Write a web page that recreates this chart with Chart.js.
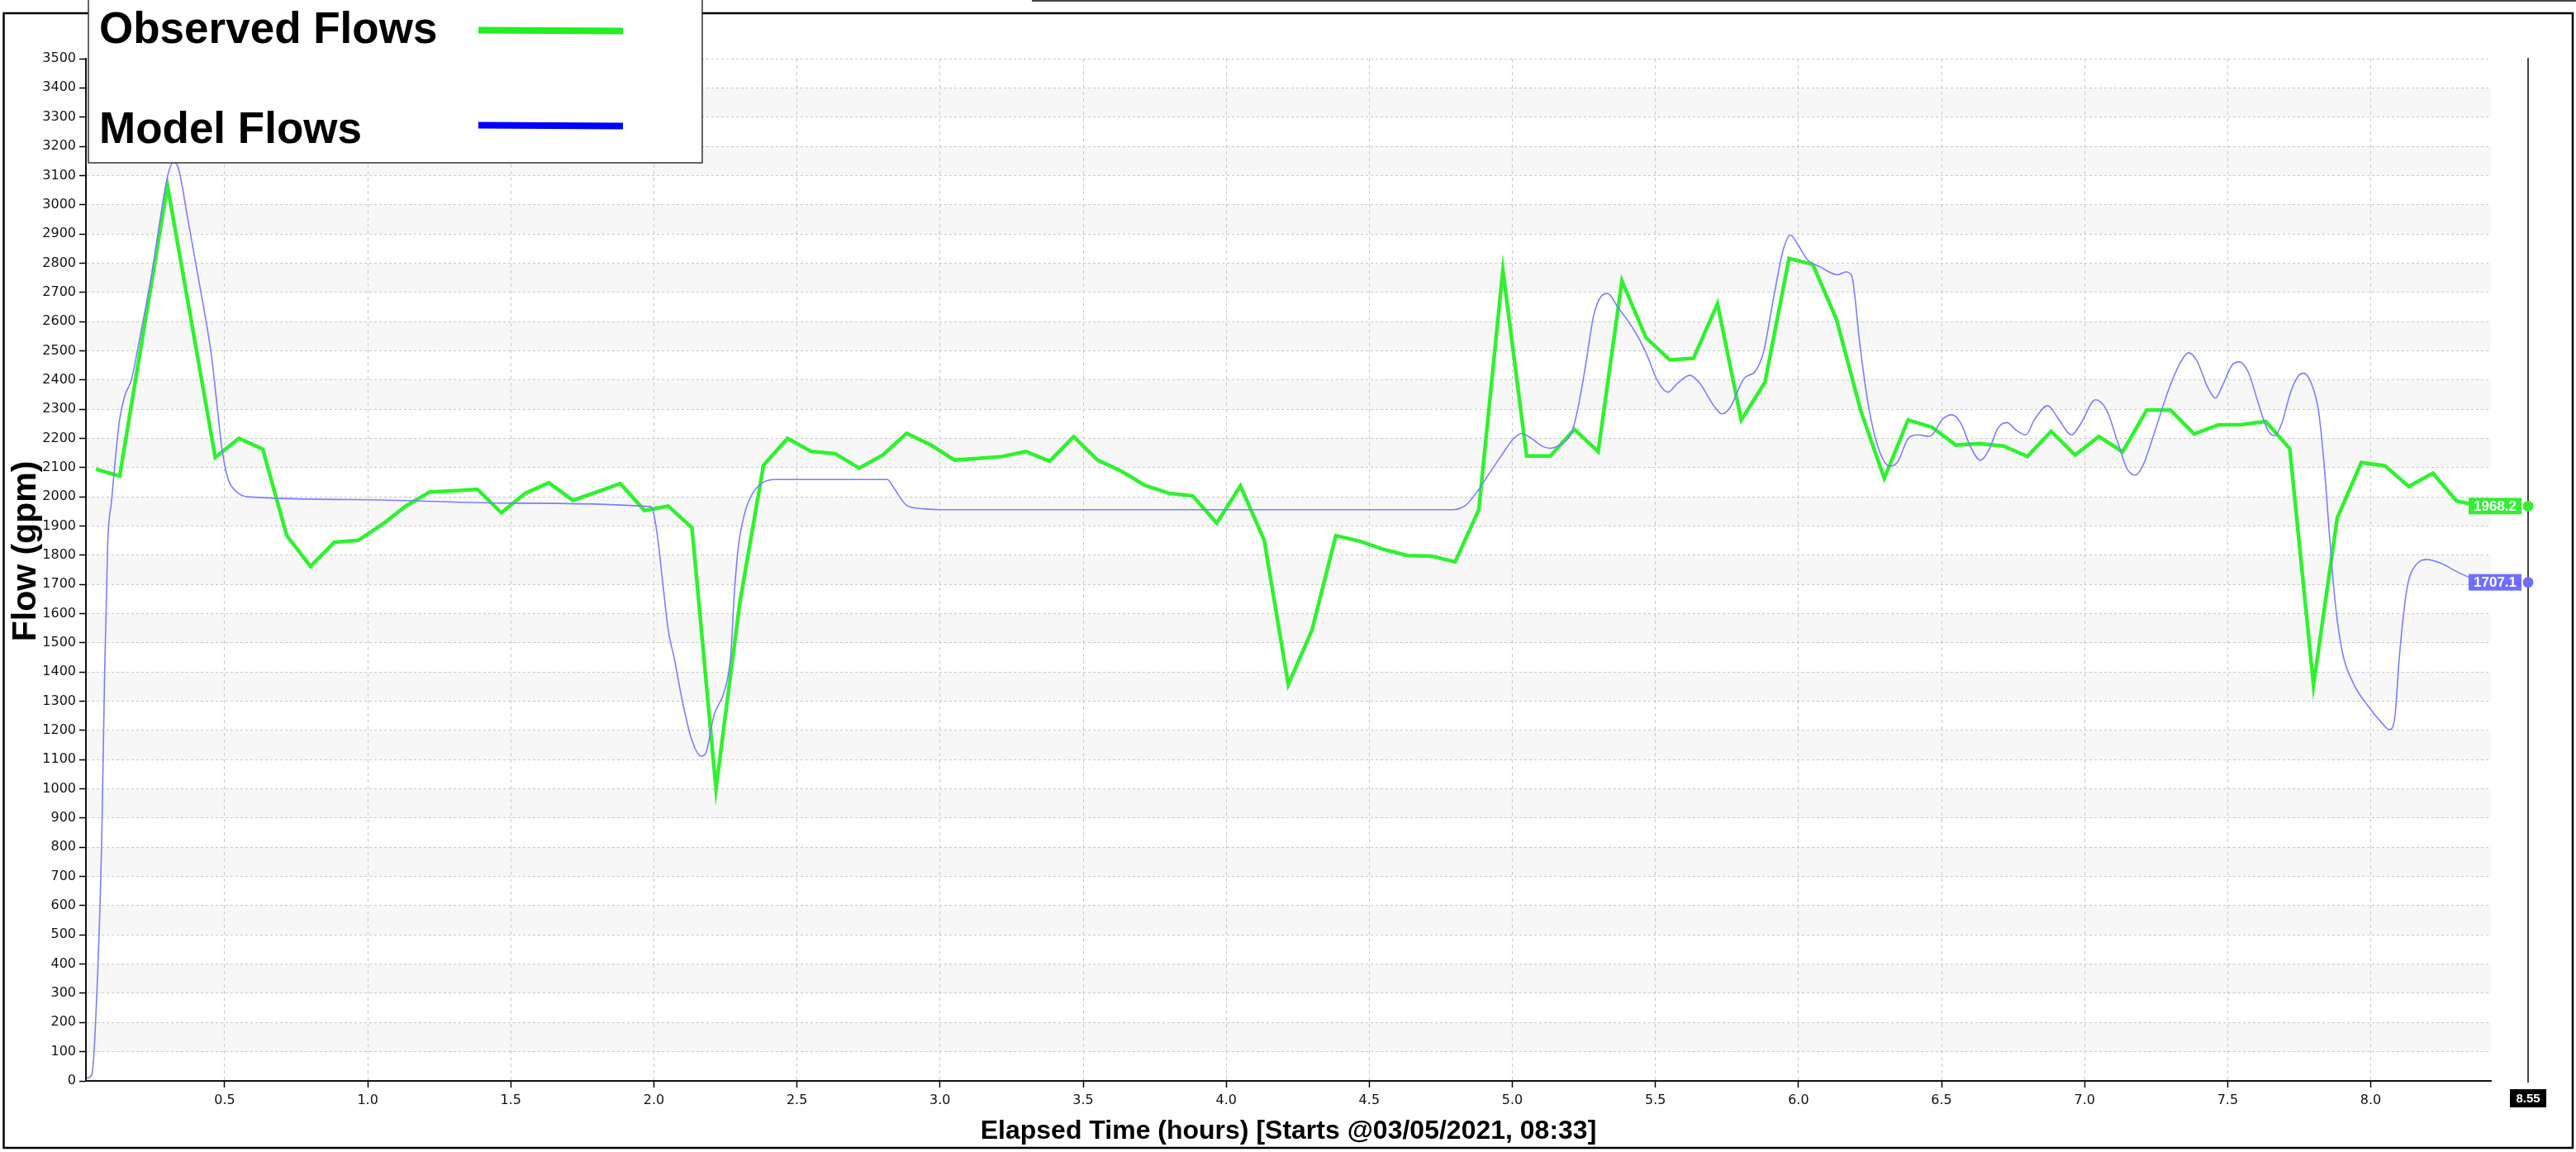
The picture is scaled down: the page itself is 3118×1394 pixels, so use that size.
<!DOCTYPE html>
<html><head><meta charset="utf-8">
<script src="https://cdn.jsdelivr.net/npm/chart.js@4.4.1/dist/chart.umd.min.js"></script>
<style>html,body{margin:0;padding:0;background:#fff;overflow:hidden}#wrap{width:3118px;height:1394px;position:relative}</style>
</head><body><div id="wrap"><canvas id="c" width="3118" height="1394"></canvas></div>
<script>
const seriesNames = ['Observed Flows', 'Model Flows'];
const xTitle = 'Elapsed Time (hours) [Starts @03/05/2021, 08:33]';
const yTitle = 'Flow (gpm)';
const cursorTime = 8.55;
const cursorLabel = '8.55';

const observedTimes = [0.05,0.133,0.3,0.467,0.55,0.633,0.717,0.8,0.883,0.967,1.05,1.133,1.217,1.3,1.383,1.467,1.55,1.633,1.717,1.8,1.883,1.967,2.05,2.133,2.217,2.3,2.383,2.467,2.55,2.633,2.717,2.8,2.883,2.967,3.05,3.133,3.217,3.3,3.383,3.467,3.55,3.633,3.717,3.8,3.883,3.967,4.05,4.133,4.217,4.3,4.383,4.467,4.55,4.633,4.717,4.8,4.883,4.967,5.05,5.133,5.217,5.3,5.383,5.467,5.55,5.633,5.717,5.8,5.883,5.967,6.05,6.133,6.217,6.3,6.383,6.467,6.55,6.633,6.717,6.8,6.883,6.967,7.05,7.133,7.217,7.3,7.383,7.467,7.55,7.633,7.717,7.8,7.883,7.967,8.05,8.133,8.217,8.3,8.383];
const observedFlows = [2095,2071,3065,2135,2200,2163,1867,1762,1844,1851,1905,1968,2017,2020,2026,1945,2012,2048,1988,2016,2045,1953,1968,1894,1000,1636,2108,2200,2155,2148,2098,2143,2217,2178,2126,2131,2138,2155,2122,2206,2126,2088,2039,2012,2003,1910,2037,1851,1357,1544,1867,1848,1820,1799,1797,1777,1956,2776,2140,2140,2231,2155,2739,2545,2469,2474,2661,2263,2392,2816,2796,2607,2297,2063,2263,2238,2177,2182,2174,2138,2224,2143,2206,2154,2297,2297,2215,2246,2247,2258,2165,1355,1928,2117,2106,2035,2081,1986,1968.2];

const modelTimes = [0.018,0.035,0.047,0.07,0.08,0.091,0.105,0.119,0.133,0.15,0.175,0.2,0.244,0.3,0.32,0.335,0.37,0.412,0.454,0.475,0.489,0.51,0.538,0.58,1.0,1.5,1.99,2.01,2.03,2.05,2.07,2.1,2.13,2.165,2.18,2.21,2.247,2.268,2.282,2.296,2.317,2.345,2.38,2.422,2.816,2.84,2.883,2.94,3.0,4.794,4.837,4.879,4.921,4.963,5.005,5.033,5.061,5.103,5.131,5.172,5.207,5.228,5.256,5.284,5.312,5.333,5.368,5.424,5.466,5.508,5.543,5.578,5.62,5.655,5.704,5.732,5.76,5.809,5.851,5.878,5.913,5.948,5.972,5.997,6.032,6.074,6.137,6.165,6.186,6.214,6.242,6.277,6.319,6.347,6.382,6.417,6.459,6.504,6.536,6.568,6.6,6.636,6.665,6.697,6.729,6.761,6.794,6.826,6.871,6.909,6.955,6.987,7.038,7.077,7.115,7.148,7.177,7.206,7.244,7.296,7.334,7.363,7.392,7.431,7.457,7.482,7.515,7.54,7.572,7.605,7.637,7.663,7.689,7.72,7.746,7.766,7.792,7.817,7.837,7.856,7.876,7.901,7.94,7.991,8.036,8.066,8.084,8.1,8.126,8.158,8.197,8.248,8.3,8.383];
const modelFlows = [10,20,164,816,1375,1836,1990,2143,2266,2343,2404,2527,2757,3095,3145,3134,2957,2727,2481,2297,2174,2066,2020,2000,1990,1978,1966,1882,1713,1544,1452,1298,1175,1112,1120,1252,1337,1452,1682,1836,1943,2012,2048,2059,2059,2028,1971,1959,1956,1956,1971,2020,2082,2143,2200,2217,2204,2174,2166,2181,2220,2297,2450,2619,2688,2696,2650,2573,2496,2396,2358,2389,2416,2389,2312,2284,2304,2404,2432,2496,2681,2850,2896,2865,2811,2788,2760,2770,2757,2527,2327,2174,2105,2120,2197,2212,2207,2266,2281,2251,2174,2125,2159,2235,2254,2228,2212,2266,2312,2266,2212,2251,2332,2297,2189,2097,2074,2112,2220,2373,2458,2493,2466,2373,2338,2381,2450,2462,2427,2327,2235,2209,2251,2358,2412,2423,2389,2297,2112,1867,1636,1467,1360,1283,1229,1203,1244,1452,1682,1767,1785,1771,1744,1707.1];

const xTicks = [0.5,1.0,1.5,2.0,2.5,3.0,3.5,4.0,4.5,5.0,5.5,6.0,6.5,7.0,7.5,8.0];
const yTicks = [0,100,200,300,400,500,600,700,800,900,1000,1100,1200,1300,1400,1500,1600,1700,1800,1900,2000,2100,2200,2300,2400,2500,2600,2700,2800,2900,3000,3100,3200,3300,3400,3500];

const obsColor = '#2ef22e';
const modelColor = '#7d7dff';
const legendColors = ['#22ee22', '#0000ff'];
const labelColors = ['#33ee33', '#6f6fff'];

const decor = {
  id: 'decor',
  beforeDraw(chart) {
    const {ctx, chartArea: a, scales: {y}} = chart;
    ctx.save();
    ctx.fillStyle = '#fff';
    ctx.fillRect(0, 0, chart.width, chart.height);
    ctx.fillStyle = '#f7f7f7';
    for (let i = 1; i + 1 < yTicks.length; i += 2) {
      const y1 = y.getPixelForValue(yTicks[i]);
      const y2 = y.getPixelForValue(yTicks[i + 1]);
      ctx.fillRect(a.left, y2, a.right - a.left, y1 - y2);
    }
    ctx.restore();
  },
  afterDraw(chart) {
    const {ctx, chartArea: a, scales: {x, y}} = chart;
    ctx.save();
    // outer frame
    ctx.strokeStyle = '#000';
    ctx.lineWidth = 2.5;
    ctx.strokeRect(4.5, 16, 3109.5, 1373);
    ctx.strokeStyle = '#444';
    ctx.lineWidth = 2;
    ctx.beginPath(); ctx.moveTo(1249, 1); ctx.lineTo(3118, 1); ctx.stroke();

    // axis titles
    ctx.fillStyle = '#000';
    ctx.font = 'bold 32px "Liberation Sans", Arial, sans-serif';
    ctx.textAlign = 'center';
    ctx.textBaseline = 'alphabetic';
    ctx.fillText(xTitle, (a.left + a.right) / 2, 1378);
    ctx.save();
    ctx.translate(43, 667);
    ctx.rotate(-Math.PI / 2);
    ctx.font = 'bold 41px "Liberation Sans", Arial, sans-serif';
    ctx.fillText(yTitle, 0, 0);
    ctx.restore();

    // cursor line
    const cx = x.getPixelForValue(cursorTime);
    ctx.strokeStyle = '#444';
    ctx.lineWidth = 2;
    ctx.beginPath(); ctx.moveTo(cx, 70); ctx.lineTo(cx, 1310); ctx.stroke();
    ctx.fillStyle = '#000';
    ctx.fillRect(cx - 22, 1318, 44, 22);
    ctx.fillStyle = '#fff';
    ctx.font = 'bold 15px "Liberation Sans", Arial, sans-serif';
    ctx.textBaseline = 'middle';
    ctx.fillText(cursorLabel, cx, 1329.5);

    // end value labels
    chart.data.datasets.forEach((ds, i) => {
      const last = ds.data[ds.data.length - 1];
      const py = y.getPixelForValue(last.y);
      ctx.fillStyle = labelColors[i];
      ctx.fillRect(cx - 72, py - 10, 64, 20);
      ctx.fillStyle = '#fff';
      ctx.font = 'bold 17px "Liberation Sans", Arial, sans-serif';
      ctx.textAlign = 'center';
      ctx.fillText(last.y.toFixed(1), cx - 40, py + 1);
      ctx.fillStyle = labelColors[i];
      ctx.beginPath(); ctx.arc(cx, py, 6.5, 0, Math.PI * 2); ctx.fill();
    });

    // legend
    ctx.fillStyle = '#fff';
    ctx.fillRect(107, -2, 743, 199);
    ctx.strokeStyle = '#333';
    ctx.lineWidth = 1.5;
    ctx.strokeRect(107, -2, 743, 199);
    ctx.font = 'bold 53px "Liberation Sans", Arial, sans-serif';
    ctx.textAlign = 'left';
    ctx.textBaseline = 'alphabetic';
    const baselines = [52, 173];
    const lineYs = [36.5, 151.5];
    seriesNames.forEach((n, i) => {
      ctx.fillStyle = '#000';
      ctx.fillText(n, 120, baselines[i]);
      ctx.strokeStyle = legendColors[i];
      ctx.lineWidth = 8;
      ctx.beginPath(); ctx.moveTo(579, lineYs[i]); ctx.lineTo(754, lineYs[i] + 1); ctx.stroke();
    });
    ctx.restore();
  }
};

Chart.defaults.font.family = '"DejaVu Sans", Verdana, sans-serif';

new Chart(document.getElementById('c'), {
  type: 'line',
  data: {
    datasets: [
      {
        label: seriesNames[0],
        data: observedTimes.map((t, i) => ({x: t, y: observedFlows[i]})),
        borderColor: obsColor,
        borderWidth: 4.5,
        pointRadius: 0,
        tension: 0,
        borderJoinStyle: 'miter',
        order: 2
      },
      {
        label: seriesNames[1],
        data: modelTimes.map((t, i) => ({x: t, y: modelFlows[i]})),
        borderColor: modelColor,
        borderWidth: 1.6,
        pointRadius: 0,
        cubicInterpolationMode: 'monotone',
        order: 1
      }
    ]
  },
  options: {
    responsive: false,
    animation: false,
    devicePixelRatio: 1,
    layout: {padding: {left: 0, top: 71, right: 103, bottom: 0}},
    plugins: {legend: {display: false}, tooltip: {enabled: false}},
    scales: {
      x: {
        type: 'linear',
        min: 0.015,
        max: 8.42,
        afterFit(s) { s.height = 86; },
        afterBuildTicks(s) { s.ticks = xTicks.map(v => ({value: v})); },
        grid: {color: '#c8c8c8', lineWidth: 1, tickLength: 8, tickColor: '#000', tickWidth: 1.5, tickBorderDash: []},
        border: {display: true, color: '#111', width: 2, dash: [4, 4]},
        ticks: {
          autoSkip: false, maxRotation: 0, padding: 6,
          color: '#111', font: {size: 16},
          callback: v => Number(v).toFixed(1)
        }
      },
      y: {
        type: 'linear',
        min: 0,
        max: 3500,
        afterFit(s) { s.width = 104; },
        afterBuildTicks(s) { s.ticks = yTicks.map(v => ({value: v})); },
        grid: {color: '#c8c8c8', lineWidth: 1, tickLength: 8, tickColor: '#000', tickWidth: 1.5, tickBorderDash: []},
        border: {display: true, color: '#111', width: 2, dash: [3, 3]},
        ticks: {autoSkip: false, padding: 4, color: '#111', font: {size: 16}, callback: v => String(v)}
      }
    }
  },
  plugins: [decor]
});
</script>
</body></html>
